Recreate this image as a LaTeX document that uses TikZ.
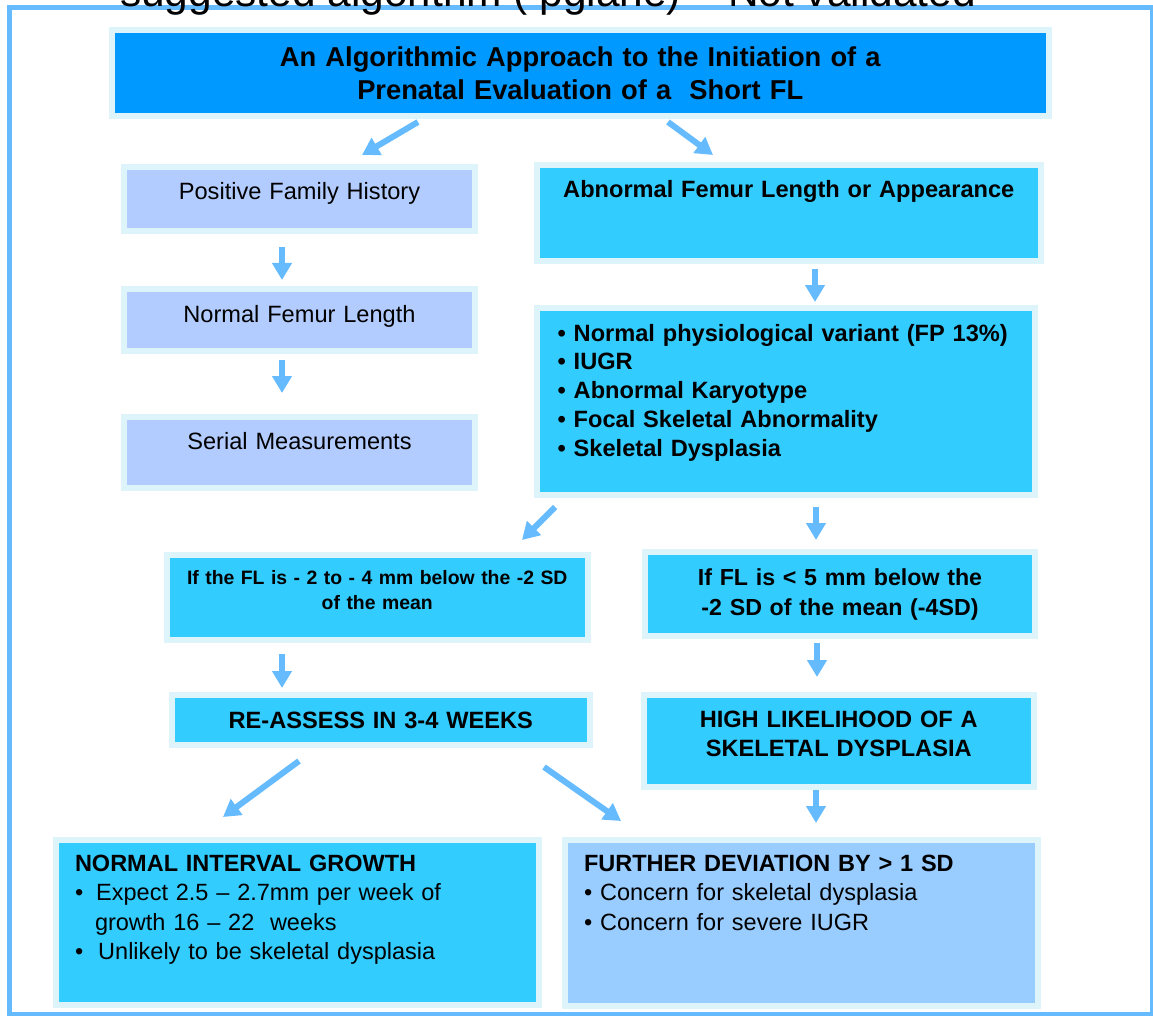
\documentclass[tikz,border=0pt]{standalone}
\usepackage{fontspec}
\setmainfont{Liberation Sans}
\usepackage{tikz}
\usetikzlibrary{positioning,calc,arrows.meta}
\definecolor{FrameBlue}{RGB}{102,187,255}
\definecolor{BorderCyan}{RGB}{221,244,250}
\definecolor{TitleBlue}{RGB}{0,153,255}
\definecolor{SkyCyan}{RGB}{51,204,255}
\definecolor{Lavender}{RGB}{179,204,255}
\definecolor{PaleBlue}{RGB}{153,204,255}

\begin{document}
\begin{tikzpicture}[
    x=1pt, y=-1pt,
    box/.style={rectangle, draw=BorderCyan, line width=6pt, outer sep=0pt, inner sep=0pt, anchor=north west, align=center},
    lavbox/.style={box, fill=Lavender, font=\fontsize{23.6}{28.5}\selectfont},
    cyanbox/.style={box, fill=SkyCyan, font=\bfseries\fontsize{23.6}{28.8}\selectfont},
    arrow/.style={-{Triangle[width=19pt,length=17pt]}, line width=6pt, FrameBlue}
  ]
  \useasboundingbox (0,0) rectangle (1153,1016);
  \draw[FrameBlue, line width=5pt] (9.5,7.5) rectangle (1152.5,1014.5);
  \node[anchor=base west, inner sep=0pt, font=\fontsize{42.4}{50}\selectfont] (note) at (120,7) {suggested algorithm ( pgiane) – Not validated};

  % title
  \node[box, fill=TitleBlue, text width=936.5pt, minimum height=85.5pt, font=\bfseries\fontsize{27.3}{33.6}\selectfont] (title) at (112,30.5)
    {An Algorithmic Approach to the Initiation of a\\Prenatal Evaluation of a\ \ Short FL};

  % left column
  \node[lavbox, text width=351pt, text height=33pt, text depth=31pt] (pfh) at (124,167) {Positive Family History};
  \node[lavbox, text width=351pt, text height=33pt, text depth=29pt, below=58pt of pfh] (nfl) {Normal Femur Length};
  \node[lavbox, text width=351pt, text height=32pt, text depth=39pt, below=66pt of nfl] (serial) {Serial Measurements};

  % right column
  \node[cyanbox, text width=503.5pt, text height=33pt, text depth=63pt] (abn) at (537,165) {Abnormal Femur Length or Appearance};
  \node[cyanbox, align=left, inner xsep=21pt, text width=456.3pt, text height=32.7pt, text depth=154.3pt] (causes) at (536.6,308.3)
    {• Normal physiological variant (FP 13\%)\\• IUGR\\• Abnormal Karyotype\\• Focal Skeletal Abnormality\\• Skeletal Dysplasia};

  \node[cyanbox, text width=420.5pt, text height=29pt, text depth=56pt, font=\bfseries\fontsize{19.4}{25}\selectfont] (mild) at (167,555)
    {If the FL is - 2 to - 4 mm below the -2 SD\\of the mean};
  \node[cyanbox, text width=390pt, text height=33pt, text depth=51pt, font=\bfseries\fontsize{23.2}{30}\selectfont] (severe) at (645,552)
    {If FL is < 5 mm below the\\-2 SD of the mean (-4SD)};
  \node[cyanbox, text width=417.5pt, text height=33.5pt, text depth=16.5pt] (reassess) at (172,695) {RE-ASSESS IN 3-4 WEEKS};
  \node[cyanbox, text width=389.5pt, text height=33pt, text depth=59pt] (likely) at (644,694.5) {HIGH LIKELIHOOD OF A\\SKELETAL DYSPLASIA};

  % outcomes
  \node[box, fill=SkyCyan, align=left, inner xsep=19pt, text width=445pt, text height=32pt, text depth=133.5pt, font=\fontsize{23.5}{29.3}\selectfont] (growth) at (56,839.5)
    {\textbf{NORMAL INTERVAL GROWTH}\\•\hspace{13pt}Expect 2.5 – 2.7mm per week of\\\hspace*{20pt}growth 16 – 22\ \ weeks\\•\hspace{15pt}Unlikely to be skeletal dysplasia};
  \node[box, fill=PaleBlue, align=left, inner xsep=19.5pt, text width=434.5pt, text height=32pt, text depth=134.5pt, font=\fontsize{23.5}{29.3}\selectfont] (deviation) at (564.5,839.5)
    {\textbf{FURTHER DEVIATION BY > 1 SD}\\• Concern for skeletal dysplasia\\• Concern for severe IUGR};

  \draw[arrow] ($(title.south west)+(306,6)$) -- ($(pfh.north)+(62.5,-12)$);
  \draw[arrow] ($(title.south west)+(556,6)$) -- ($(abn.north west)+(176,-10)$);
  \draw[arrow] ($(pfh.south west)+(158,16)$) -- ($(nfl.north west)+(158,-9)$);
  \draw[arrow] ($(nfl.south west)+(158,9)$) -- ($(serial.north west)+(158,-24)$);
  \draw[arrow] ($(abn.south west)+(278,8)$) -- ($(causes.north west)+(278.4,-6.3)$);
  \draw[arrow] ($(causes.south west)+(18.4,11.7)$) -- ($(mild.north west)+(355,-15)$);
  \draw[arrow] ($(causes.south west)+(279.4,11.7)$) -- ($(severe.north west)+(171,-12)$);
  \draw[arrow] ($(mild.south west)+(115,14)$) -- ($(reassess.north west)+(110,-7)$);
  \draw[arrow] ($(severe.south west)+(172,7)$) -- ($(likely.north west)+(173,-17.5)$);
  \draw[arrow] ($(reassess.south west)+(127,16)$) -- ($(growth.north west)+(167,-22.5)$);
  \draw[arrow] ($(reassess.south west)+(372,22)$) -- ($(deviation.north west)+(56.5,-18.5)$);
  \draw[arrow] ($(likely.south west)+(172,3.5)$) -- ($(deviation.north west)+(251.5,-16.5)$);
\end{tikzpicture}
\end{document}
